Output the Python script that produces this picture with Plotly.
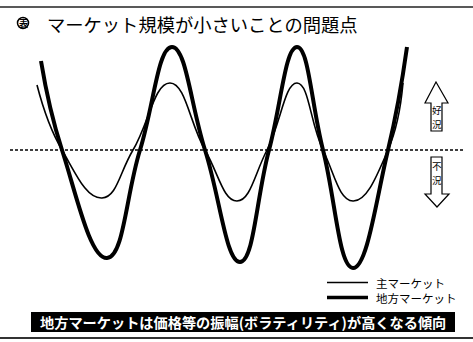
import plotly.graph_objects as go

# ---- data (time position, level relative to the neutral line) ----
t_main = [37, 62, 102, 133, 170, 205, 237, 267, 297, 323, 353, 388, 403]
main_level = [65, 0, -48, 0, 67, 0, -51, 0, 67, 0, -51, 0, 67]

t_local = [41, 62, 107, 140, 172, 205, 240, 269, 297, 323, 353, 388, 407]
local_level = [89, 0, -108, 0, 103, 0, -112, 0, 103, 0, -118, 0, 103]

series_names = ["主マーケット", "地方マーケット"]
title_text = "マーケット規模が小さいことの問題点"
title_mark = "表"
up_label = ["好", "況"]
down_label = ["不", "況"]
banner_text = "地方マーケットは価格等の振幅(ボラティリティ)が高くなる傾向"

W, H = 473, 342
BASE = 150  # pixel row of the neutral line


def Y(ypx):
    return BASE - ypx


FONT = "Noto Sans CJK JP"

fig = go.Figure()
fig.add_trace(go.Scatter(x=t_main, y=main_level, mode="lines", name=series_names[0],
                         line=dict(color="black", width=1.6, shape="spline", smoothing=1.3),
                         showlegend=False))
fig.add_trace(go.Scatter(x=t_local, y=local_level, mode="lines", name=series_names[1],
                         line=dict(color="black", width=4, shape="spline", smoothing=1.3),
                         showlegend=False))

shapes = []
# frame lines
shapes.append(dict(type="line", xref="x", yref="y", x0=0, x1=W, y0=Y(7), y1=Y(7),
                   line=dict(color="#222", width=1.5)))
shapes.append(dict(type="line", xref="x", yref="y", x0=0, x1=W, y0=Y(338), y1=Y(338),
                   line=dict(color="#333", width=2)))
# neutral dotted line
shapes.append(dict(type="line", xref="x", yref="y", x0=10, x1=463, y0=0, y1=0,
                   line=dict(color="black", width=1.6, dash="3px,2px")))
# title circle mark
shapes.append(dict(type="circle", xref="x", yref="y", x0=17.5, x1=28.5, y0=Y(17.5), y1=Y(28.5),
                   line=dict(color="black", width=1.5)))
# up arrow
up = [(436, 82), (448, 103), (442, 103), (442, 131), (431, 131), (431, 103), (425, 103)]
shapes.append(dict(type="path", xref="x", yref="y",
                   path="M " + " L ".join(f"{x},{Y(y)}" for x, y in up) + " Z",
                   line=dict(color="black", width=1.2), fillcolor="white"))
# down arrow
dn = [(431, 157), (442, 157), (442, 194), (449, 194), (437, 207), (425, 194), (431, 194)]
shapes.append(dict(type="path", xref="x", yref="y",
                   path="M " + " L ".join(f"{x},{Y(y)}" for x, y in dn) + " Z",
                   line=dict(color="black", width=1.2), fillcolor="white"))
# legend samples
shapes.append(dict(type="line", xref="x", yref="y", x0=327, x1=368, y0=Y(282.5), y1=Y(282.5),
                   line=dict(color="black", width=1.6)))
shapes.append(dict(type="line", xref="x", yref="y", x0=327, x1=368, y0=Y(297.5), y1=Y(297.5),
                   line=dict(color="black", width=3.5)))
# banner
shapes.append(dict(type="rect", xref="x", yref="y", x0=31, x1=455, y0=Y(312), y1=Y(332),
                   line=dict(width=0), fillcolor="black"))

annotations = [
    dict(x=23, y=Y(23), text="<b>" + title_mark + "</b>", font=dict(size=9, family=FONT, color="black")),
    dict(x=46, y=Y(23.5), text=title_text, xanchor="left",
         font=dict(size=18.3, family=FONT, color="black")),
    dict(x=436.5, y=Y(110), text=up_label[0], font=dict(size=9.5, family=FONT, color="black")),
    dict(x=436.5, y=Y(124), text=up_label[1], font=dict(size=9.5, family=FONT, color="black")),
    dict(x=436.5, y=Y(166), text=down_label[0], font=dict(size=9.5, family=FONT, color="black")),
    dict(x=436.5, y=Y(180), text=down_label[1], font=dict(size=9.5, family=FONT, color="black")),
    dict(x=375, y=Y(282.5), text=series_names[0], xanchor="left",
         font=dict(size=11.5, family=FONT, color="black")),
    dict(x=375, y=Y(297.5), text=series_names[1], xanchor="left",
         font=dict(size=11.5, family=FONT, color="black")),
    dict(x=243, y=Y(322), text="<b>" + banner_text + "</b>",
         font=dict(size=14.2, family=FONT, color="white")),
]
for a in annotations:
    a.update(xref="x", yref="y", showarrow=False, borderpad=0)
    a.setdefault("xanchor", "center")
    a.setdefault("yanchor", "middle")

fig.update_layout(
    width=W, height=H,
    margin=dict(l=0, r=0, t=0, b=0),
    paper_bgcolor="white", plot_bgcolor="white",
    xaxis=dict(range=[0, W], visible=False, fixedrange=True),
    yaxis=dict(range=[Y(H), Y(0)], visible=False, fixedrange=True),
    shapes=shapes,
    annotations=annotations,
    showlegend=False,
)

fig.write_html("out.html", config={"displayModeBar": False},
               post_script="document.body.style.margin='0';document.body.style.overflow='hidden';")
